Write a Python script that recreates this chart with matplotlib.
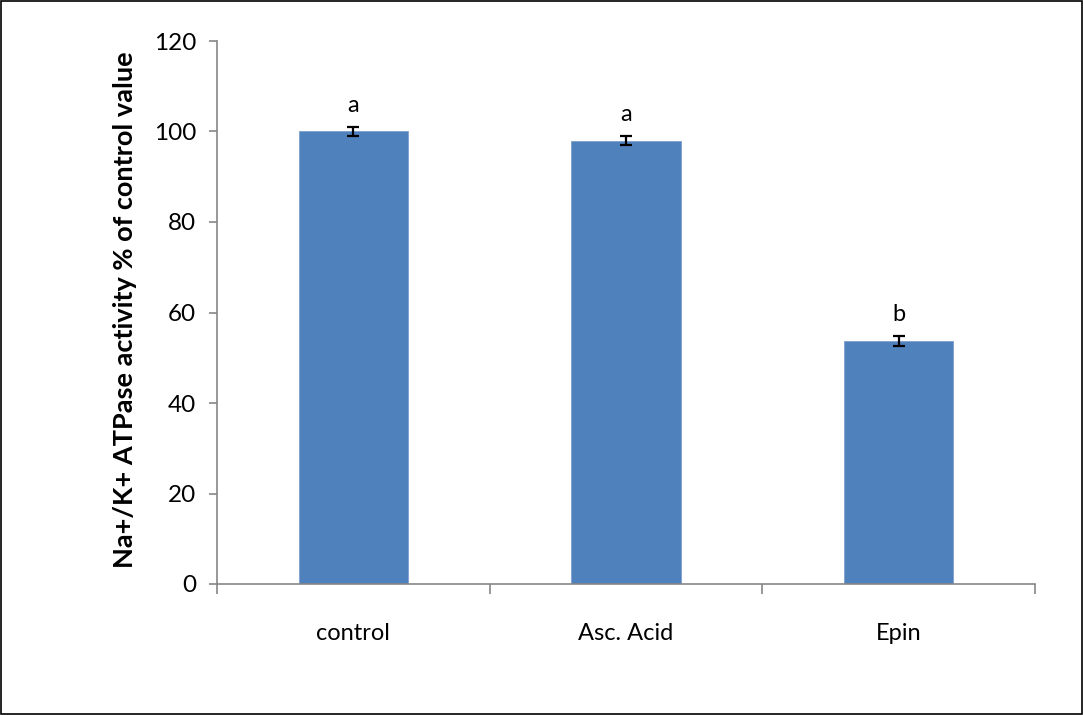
import matplotlib
matplotlib.use("Agg")
import matplotlib.pyplot as plt
from matplotlib.patches import Rectangle

categories = ["control", "Asc. Acid", "Epin"]
values = [100.0, 98.0, 53.7]
errors = [1.0, 1.0, 1.0]
letters = ["a", "a", "b"]
yticks = [0, 20, 40, 60, 80, 100, 120]

plt.rcParams['font.family'] = ['Lato', 'DejaVu Sans']

fig = plt.figure(figsize=(10.83, 7.15), dpi=100)
ax = fig.add_axes([217/1083, 1 - 584/715, (1035-217)/1083, (584-41)/715])

x = list(range(len(categories)))
ax.bar(x, values, width=0.4, color="#4F81BD", edgecolor="#7F9FCF", linewidth=0.6, zorder=2)
ax.errorbar(x, values, yerr=errors, fmt="none", ecolor="black", elinewidth=1.6,
            capsize=4, capthick=1.6, zorder=3)
for xi, v, e, l in zip(x, values, errors, letters):
    ax.text(xi, v + e + 2.5, l, ha="center", va="bottom", fontsize=17)

ax.set_xlim(-0.5, 2.5)
ax.set_ylim(0, 120)
ax.set_yticks(yticks)
ax.set_yticklabels([str(t) for t in yticks], fontsize=17.5)
ax.set_xticks(x)
ax.set_xticklabels(categories, fontsize=17)
ax.tick_params(axis="x", length=0, pad=28)
ax.tick_params(axis="y", length=6, width=1.2, color="#868686", pad=9, direction="out")
# category boundary ticks
ax.set_xticks([-0.5, 0.5, 1.5, 2.5], minor=True)
ax.tick_params(axis="x", which="minor", length=7, width=1.2, color="#868686", direction="out")

for s in ["top", "right"]:
    ax.spines[s].set_visible(False)
for s in ["left", "bottom"]:
    ax.spines[s].set_color("#868686")
    ax.spines[s].set_linewidth(1.2)

fig.text(125/1083, 1 - 310/715, "Na+/K+ ATPase activity % of control value",
         rotation=90, ha="center", va="center", fontsize=19.5, fontweight="bold")

fig.patches.append(Rectangle((1/1083, 1/715), 1081/1083, 713/715, transform=fig.transFigure,
                             fill=False, edgecolor="black", linewidth=1.2))

fig.savefig("out.png", dpi=100)
